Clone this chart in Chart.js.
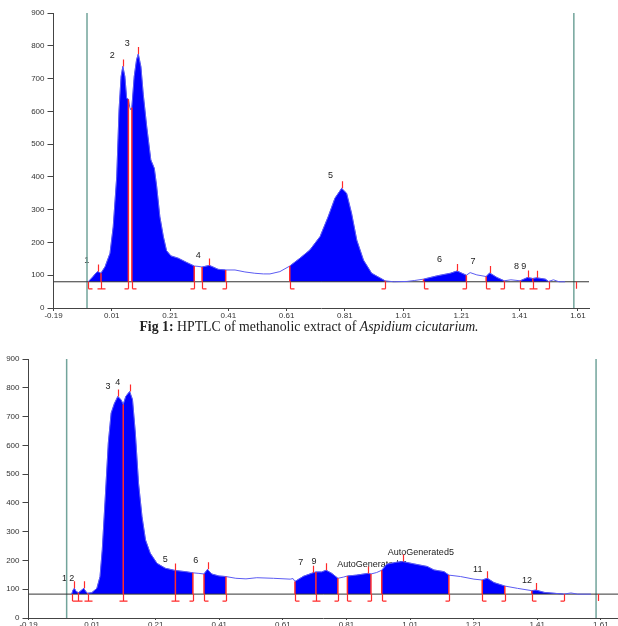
<!DOCTYPE html>
<html>
<head>
<meta charset="utf-8">
<script src="https://cdn.jsdelivr.net/npm/chart.js@4.4.0/dist/chart.umd.min.js"></script>
<style>
  body { margin: 0; background: #fff; width: 618px; height: 626px; position: relative; overflow: hidden; }
  canvas { position: absolute; left: 0; }
  #c1 { top: 0; }
  #c2 { top: 340px; }
  #cap { position: absolute; top: 319px; left: 0; width: 618px; text-align: center;
         font: 13.8px "Liberation Serif", "Times New Roman", serif; color: #222; }
</style>
</head>
<body>
<canvas id="c1" width="600" height="322"></canvas>
<div id="cap"><b>Fig 1:</b> HPTLC of methanolic extract of <i>Aspidium cicutarium.</i></div>
<canvas id="c2" width="618" height="286"></canvas>
<script>
// === Ejes comunes ===
const xTicks = [-0.19, 0.01, 0.21, 0.41, 0.61, 0.81, 1.01, 1.21, 1.41, 1.61];
const yMax = 900;

// === Figura 1 (perfil densitometrico) ===
const rf1 = [-0.071, -0.055, -0.045, -0.038, -0.027, -0.013, 0.004, 0.015, 0.027, 0.035,
  0.042, 0.048, 0.055, 0.061, 0.067, 0.072, 0.076, 0.079, 0.087, 0.095,
  0.101, 0.110, 0.118, 0.130, 0.144, 0.156, 0.164, 0.175, 0.187, 0.198,
  0.213, 0.238, 0.267, 0.293, 0.306, 0.320, 0.345, 0.375, 0.401, 0.433,
  0.467, 0.501, 0.530, 0.553, 0.587, 0.621, 0.656, 0.690, 0.725, 0.753,
  0.776, 0.799, 0.816, 0.833, 0.851, 0.874, 0.902, 0.948, 0.977, 1.023,
  1.050, 1.080, 1.126, 1.172, 1.195, 1.227, 1.240, 1.263, 1.295, 1.307,
  1.332, 1.357, 1.380, 1.412, 1.437, 1.455, 1.469, 1.498, 1.509, 1.526,
  1.545, 1.566];
const dens1 = [80, 95, 106, 111, 106, 126, 167, 248, 400, 604,
  706, 737, 706, 640, 637, 612, 604, 612, 706, 757,
  775, 736, 652, 553, 452, 426, 372, 279, 218, 175,
  159, 152, 139, 128, 127, 125, 130, 118, 116, 116,
  110, 106, 104, 104, 111, 128, 152, 177, 218, 279,
  335, 365, 350, 289, 207, 146, 106, 83, 80, 81,
  84, 88, 98, 106, 113, 100, 108, 101, 96, 107,
  93, 83, 86, 83, 93, 90, 92, 88, 81, 86,
  80, 80];
const inicio1 = [-0.071, -0.027, 0.079, 0.320, 0.621, 1.080, 1.295, 1.412, 1.455];
const fin1 = [-0.027, 0.067, 0.293, 0.401, 0.948, 1.227, 1.357, 1.455, 1.509];
const picos1 = [-0.038, 0.048, 0.101, 0.345, 0.799, 1.195, 1.307, 1.437, 1.469];
const etiq1 = ["1", "2", "3", "4", "5", "6", "7", "8", "9"];
const etiqRf1 = [-0.076, 0.012, 0.063, 0.307, 0.761, 1.135, 1.250, 1.399, 1.424];
const etiqY1 = [146, 770, 807, 161, 403, 148, 143, 127, 127];
const bordes1 = [-0.075, 1.596];
const marcaFin1 = [1.605];
const base1 = 80;

// === Figura 2 ===
const rf2 = [-0.054, -0.050, -0.046, -0.040, -0.033, -0.025, -0.016, -0.010, -0.004, 0.009,
  0.025, 0.035, 0.042, 0.051, 0.061, 0.070, 0.080, 0.091, 0.101, 0.108,
  0.116, 0.128, 0.137, 0.146, 0.156, 0.167, 0.178, 0.193, 0.214, 0.240,
  0.272, 0.304, 0.327, 0.346, 0.362, 0.373, 0.386, 0.409, 0.431, 0.462,
  0.494, 0.528, 0.580, 0.633, 0.642, 0.648, 0.675, 0.705, 0.714, 0.732,
  0.746, 0.764, 0.783, 0.800, 0.813, 0.842, 0.877, 0.887, 0.905, 0.921,
  0.937, 0.969, 0.987, 1.022, 1.064, 1.085, 1.117, 1.132, 1.169, 1.211,
  1.237, 1.253, 1.274, 1.308, 1.348, 1.393, 1.406, 1.432, 1.493, 1.516,
  1.537, 1.579];
const dens2 = [83, 97, 103, 92, 88, 95, 103, 92, 86, 88,
  103, 144, 237, 410, 608, 712, 745, 770, 758, 742,
  770, 787, 759, 643, 469, 352, 271, 225, 190, 173,
  165, 161, 157, 155, 153, 169, 153, 146, 144, 138,
  136, 140, 138, 135, 137, 127, 145, 157, 160, 160,
  166, 155, 138, 142, 146, 149, 155, 153, 158, 166,
  187, 194, 196, 188, 179, 167, 161, 149, 144, 135,
  132, 138, 123, 111, 103, 95, 97, 89, 83, 87,
  83, 83];
const inicio2 = [-0.054, -0.033, -0.004, 0.108, 0.272, 0.362, 0.648, 0.714, 0.813, 0.921, 1.237, 1.393];
const fin2 = [-0.033, -0.004, 0.108, 0.272, 0.327, 0.431, 0.714, 0.783, 0.887, 1.132, 1.308, 1.493];
const picos2 = [-0.046, -0.016, 0.091, 0.128, 0.272, 0.373, 0.705, 0.746, 0.877, 0.987, 1.253, 1.406];
const etiq2 = ["1", "2", "3", "4", "5", "6", "7", "9", "AutoGenerated11", "AutoGenerated5", "11", "12"];
const etiqRf2 = [-0.077, -0.054, 0.060, 0.091, 0.240, 0.336, 0.666, 0.708, 0.892, 1.044, 1.223, 1.378];
const etiqY2 = [138, 138, 805, 820, 202, 200, 193, 196, 186, 228, 169, 130];
const bordes2 = [-0.070, 1.595];
const marcaFin2 = [1.600];
const base2 = 83;

const ROJO = "#ff2a2a";
const AZUL = "#0000ff";
const VERDE = "#72a49b";

function valorEn(rf, dens, x) {
  return dens[rf.indexOf(x)];
}

// Plugin con etiquetas, corchetes y marcas de pico
function marcas(d) {
  return {
    id: "marcas",
    beforeDatasetsDraw(chart) {
      const ctx = chart.ctx, xs = chart.scales.x, ys = chart.scales.y;
      ctx.save();
      ctx.font = '9px "Liberation Sans", Arial, sans-serif';
      ctx.fillStyle = "#222";
      ctx.textAlign = "center";
      ctx.textBaseline = "middle";
      d.etiq.forEach((t, i) => {
        ctx.fillText(t, xs.getPixelForValue(d.etiqRf[i]), ys.getPixelForValue(d.etiqY[i]));
      });
      ctx.restore();
    },
    afterDatasetsDraw(chart) {
      const ctx = chart.ctx, xs = chart.scales.x, ys = chart.scales.y;
      const yb = ys.getPixelForValue(d.base);
      ctx.save();
      ctx.strokeStyle = ROJO;
      ctx.lineWidth = 1.2;
      ctx.beginPath();
      const todos = [...new Set([...d.inicio, ...d.fin, ...d.marcaFin])];
      todos.forEach(b => {
        const px = Math.round(xs.getPixelForValue(b)) + 0.5;
        ctx.moveTo(px, yb);
        ctx.lineTo(px, yb + 7);
        if (d.inicio.includes(b)) { ctx.moveTo(px, yb + 7); ctx.lineTo(px + 4, yb + 7); }
        if (d.fin.includes(b)) { ctx.moveTo(px, yb + 7); ctx.lineTo(px - 4, yb + 7); }
      });
      d.picos.forEach(p => {
        const px = Math.round(xs.getPixelForValue(p)) + 0.5;
        const py = ys.getPixelForValue(valorEn(d.rf, d.dens, p));
        ctx.moveTo(px, py);
        ctx.lineTo(px, py - 7);
      });
      ctx.stroke();
      ctx.restore();
    }
  };
}

function crearGrafico(id, d) {
  const datasets = [];

  // lineas rojas de limites de pico
  [...new Set([...d.inicio, ...d.fin])].forEach(b => {
    datasets.push({
      data: [{ x: b, y: d.base }, { x: b, y: valorEn(d.rf, d.dens, b) }],
      borderColor: ROJO, borderWidth: 1.5, pointRadius: 0, fill: false, order: 0
    });
  });

  // perfil completo
  datasets.push({
    data: d.rf.map((x, i) => ({ x, y: d.dens[i] })),
    borderColor: "#5b5bf2", borderWidth: 1, pointRadius: 0, fill: false, order: 1
  });

  // linea base
  datasets.push({
    data: [{ x: -0.19, y: d.base }, { x: d.xMax, y: d.base }],
    borderColor: "#333", borderWidth: 1, pointRadius: 0, fill: false, order: 2
  });

  // areas de los picos
  d.inicio.forEach((a, k) => {
    const b = d.fin[k];
    const pts = [];
    d.rf.forEach((x, i) => { if (x >= a && x <= b) pts.push({ x, y: d.dens[i] }); });
    datasets.push({
      data: pts, borderColor: AZUL, borderWidth: 0.5, backgroundColor: AZUL,
      pointRadius: 0, fill: { value: d.base }, order: 3
    });
  });

  // lineas verdes (inicio / frente)
  d.bordes.forEach(e => {
    datasets.push({
      data: [{ x: e, y: 0 }, { x: e, y: yMax }],
      borderColor: VERDE, borderWidth: 1.5, pointRadius: 0, fill: false, order: 4
    });
  });

  new Chart(document.getElementById(id), {
    type: "line",
    data: { datasets },
    plugins: [marcas(d)],
    options: {
      responsive: false,
      animation: false,
      devicePixelRatio: 1,
      layout: { padding: d.padding },
      plugins: { legend: { display: false }, tooltip: { enabled: false } },
      elements: { line: { tension: 0 } },
      scales: {
        x: {
          type: "linear", min: -0.19, max: d.xMax,
          afterBuildTicks: s => { s.ticks = xTicks.map(v => ({ value: v })); },
          afterFit: s => { s.height = d.alturaX; },
          ticks: {
            autoSkip: false, maxRotation: 0, padding: d.padX, color: "#333",
            font: { size: 8, family: '"Liberation Sans", Arial, sans-serif' },
            callback: v => v.toFixed(2)
          },
          grid: { drawOnChartArea: false, tickLength: d.tickX, color: "#444" },
          border: { color: "#444" }
        },
        y: {
          min: 0, max: yMax,
          afterFit: s => { s.width = d.anchoY; },
          ticks: {
            stepSize: 100, padding: 3, color: "#333",
            font: { size: 8, family: '"Liberation Sans", Arial, sans-serif' }
          },
          grid: { drawOnChartArea: false, tickLength: 6, color: "#444" },
          border: { color: "#444" }
        }
      }
    }
  });
}

crearGrafico("c1", {
  rf: rf1, dens: dens1, inicio: inicio1, fin: fin1, picos: picos1,
  etiq: etiq1, etiqRf: etiqRf1, etiqY: etiqY1, bordes: bordes1, marcaFin: marcaFin1,
  base: base1, xMax: 1.648, anchoY: 53.5, alturaX: 14, padX: 0, tickX: 3,
  padding: { top: 13, right: 11, left: 0, bottom: 0 }
});

crearGrafico("c2", {
  rf: rf2, dens: dens2, inicio: inicio2, fin: fin2, picos: picos2,
  etiq: etiq2, etiqRf: etiqRf2, etiqY: etiqY2, bordes: bordes2, marcaFin: marcaFin2,
  base: base2, xMax: 1.664, anchoY: 28.5, alturaX: 8, padX: 0, tickX: 2,
  padding: { top: 19, right: 0, left: 0, bottom: 0 }
});
</script>
</body>
</html>
